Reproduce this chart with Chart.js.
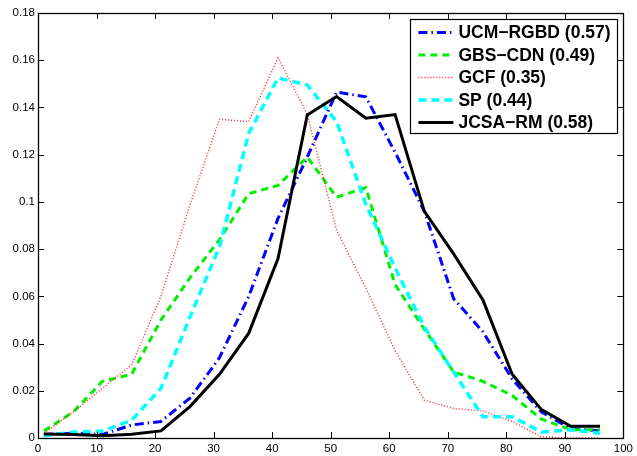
<!DOCTYPE html>
<html><head><meta charset="utf-8">
<script src="https://cdn.jsdelivr.net/npm/chart.js@4.4.0/dist/chart.umd.min.js"></script>
<style>html,body{margin:0;padding:0;background:#fff;}#wrap{width:637px;height:456px;position:relative;}</style>
</head><body><div id="wrap"><canvas id="c" width="637" height="456"></canvas></div>
<script>
const xPositions = [1,6,11,16,21,26,31,36,41,46,51,56,61,66,71,76,81,86,91,96];
const xTicks = [0,10,20,30,40,50,60,70,80,90,100];
const xTickLabels = ['0','10','20','30','40','50','60','70','80','90','100'];
const yTicks = [0,0.02,0.04,0.06,0.08,0.1,0.12,0.14,0.16,0.18];
const yTickLabels = ['0','0.02','0.04','0.06','0.08','0.1','0.12','0.14','0.16','0.18'];
const seriesLabels = ['UCM\u2212RGBD (0.57)','GBS\u2212CDN (0.49)','GCF (0.35)','SP (0.44)','JCSA\u2212RM (0.58)'];
const ucmRgbd = [0.0015,0.002,0.0015,0.0055,0.007,0.017,0.034,0.06,0.093,0.119,0.1465,0.1445,0.121,0.096,0.059,0.045,0.025,0.011,0.004,0.003];
const gbsCdn  = [0.003,0.011,0.024,0.027,0.05,0.068,0.084,0.1035,0.107,0.119,0.102,0.106,0.065,0.046,0.028,0.024,0.018,0.008,0.0035,0.0035];
const gcf     = [0.002,0.011,0.021,0.031,0.06,0.099,0.135,0.134,0.161,0.137,0.088,0.0635,0.037,0.016,0.0125,0.0115,0.007,0.0005,0,0];
const sp      = [0.001,0.0025,0.003,0.0075,0.021,0.0515,0.081,0.129,0.1525,0.1495,0.134,0.099,0.072,0.047,0.028,0.009,0.009,0.0025,0.0035,0.002];
const jcsaRm  = [0.0017,0.0015,0.001,0.0016,0.003,0.0134,0.027,0.0444,0.076,0.1368,0.1446,0.1354,0.137,0.096,0.078,0.0585,0.027,0.012,0.005,0.005];

const seriesValues = [ucmRgbd, gbsCdn, gcf, sp, jcsaRm];
const styles = [
  {borderColor:'#0000ff', borderWidth:3, borderDash:[9,4,1.5,4], order:5},
  {borderColor:'#00ee00', borderWidth:3, borderDash:[7,5], order:4},
  {borderColor:'#ff2020', borderWidth:1.4, borderDash:[1,2], order:3},
  {borderColor:'#00ffff', borderWidth:3.5, borderDash:[8,5], order:2},
  {borderColor:'#000000', borderWidth:3, borderDash:[], order:1}
];
const datasets = seriesLabels.map((lab,k)=>Object.assign({
  label: lab,
  data: xPositions.map((x,i)=>({x:x, y:seriesValues[k][i]})),
  pointRadius:0, fill:false, tension:0, borderCapStyle:'butt'
}, styles[k]));

const framePlugin = {
  id:'frame',
  afterDraw(chart){
    const {ctx, chartArea:a} = chart;
    const xs = chart.scales.x, ys = chart.scales.y;
    ctx.save();
    ctx.strokeStyle='#000'; ctx.lineWidth=1; ctx.setLineDash([]);
    ctx.beginPath();
    xTicks.forEach(v=>{
      const p = Math.round(xs.getPixelForValue(v))+0.5;
      ctx.moveTo(p, a.bottom); ctx.lineTo(p, a.bottom-6);
      ctx.moveTo(p, a.top); ctx.lineTo(p, a.top+6);
    });
    yTicks.forEach(v=>{
      const p = Math.round(ys.getPixelForValue(v))+0.5;
      ctx.moveTo(a.left, p); ctx.lineTo(a.left+6, p);
      ctx.moveTo(a.right, p); ctx.lineTo(a.right-6, p);
    });
    ctx.stroke();
    ctx.lineWidth=1.3;
    ctx.strokeRect(Math.round(a.left)+0.5, Math.round(a.top)+0.5, Math.round(a.right-a.left), Math.round(a.bottom-a.top));
    ctx.restore();
  }
};

const legendPlugin = {
  id:'boxLegend',
  afterDraw(chart){
    const {ctx, chartArea:a} = chart;
    const w = 207, h = 114;
    const left = a.right - 6 - w, top = a.top + 6;
    ctx.save();
    ctx.fillStyle='#fff';
    ctx.fillRect(left, top, w, h);
    ctx.strokeStyle='#000'; ctx.lineWidth=1.2; ctx.setLineDash([]);
    ctx.strokeRect(Math.round(left)+0.5, Math.round(top)+0.5, w, h);
    ctx.font = 'bold 17.5px "Liberation Sans", Arial, sans-serif';
    ctx.textBaseline='middle';
    chart.data.datasets.forEach((ds,i)=>{
      const y = top + 13.5 + i*22.5;
      ctx.beginPath();
      ctx.strokeStyle = ds.borderColor; ctx.lineWidth = ds.borderWidth;
      ctx.setLineDash(ds.borderDash||[]);
      ctx.lineCap='butt';
      ctx.moveTo(left+8, y); ctx.lineTo(left+43, y);
      ctx.stroke();
      ctx.setLineDash([]);
      ctx.fillStyle='#000';
      ctx.fillText(ds.label, left+48, y+1);
    });
    ctx.restore();
  }
};

new Chart(document.getElementById('c'), {
  type:'line',
  data:{datasets:datasets},
  options:{
    responsive:false, animation:false, devicePixelRatio:1,
    layout:{padding:{left:0,right:0,top:13,bottom:0}},
    plugins:{legend:{display:false}, tooltip:{enabled:false}, title:{display:false}},
    scales:{
      x:{type:'linear', min:0, max:100,
         afterBuildTicks:s=>{s.ticks = xTicks.map(v=>({value:v}));},
         grid:{display:false, drawTicks:false, tickLength:0}, border:{display:false},
         ticks:{autoSkip:false, maxRotation:0, padding:4, color:'#000',
                font:{family:'"Liberation Sans", Arial, sans-serif', size:11.5},
                callback:(v,i)=>xTickLabels[i]},
         afterFit:s=>{s.height=18;}},
      y:{type:'linear', min:0, max:0.18,
         afterBuildTicks:s=>{s.ticks = yTicks.map(v=>({value:v}));},
         grid:{display:false, drawTicks:false, tickLength:0}, border:{display:false},
         ticks:{autoSkip:false, padding:3, color:'#000',
                font:{family:'"Liberation Sans", Arial, sans-serif', size:11.5},
                callback:(v,i)=>yTickLabels[i]},
         afterFit:s=>{s.width=38;}}
    }
  },
  plugins:[framePlugin, legendPlugin]
});
</script></body></html>
